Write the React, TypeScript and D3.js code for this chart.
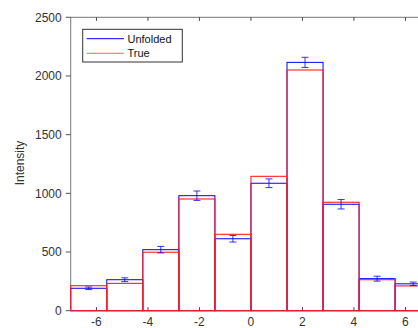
import * as d3 from "d3";
import React, { useRef, useEffect } from "react";

// bin edges from -7 to 7, width 1.4
const binEdges = [-7, -5.6, -4.2, -2.8, -1.4, 0, 1.4, 2.8, 4.2, 5.6, 7];
const unfolded = [191, 264, 520, 980, 613, 1086, 2116, 907, 273, 229];
const trueVals = [213, 233, 498, 952, 651, 1145, 2051, 924, 264, 211];
const unfoldedErr = [11, 16, 28, 40, 28, 37, 43, 40, 21, 15];
const xTicks = [-6, -4, -2, 0, 2, 4, 6];
const yTicks = [0, 500, 1000, 1500, 2000, 2500];
const legendNames = ["Unfolded", "True"];

function App() {
  const svgRef = useRef<SVGSVGElement>(null);
  const width = 418;
  const height = 328;
  const marginLeft = 70.7;
  const marginTop = 17.3;
  const plotRight = 431.2; // plot box runs past the window edge
  const plotBottom = 310.7;

  useEffect(() => {
    const svg = d3.select(svgRef.current);
    svg.selectAll("*").remove();

    const font = "'Liberation Sans', Arial, Helvetica, sans-serif";
    const axisColor = "#777";

    const x = d3.scaleLinear().domain([-7, 7]).range([marginLeft, plotRight]);
    const y = d3.scaleLinear().domain([0, 2500]).range([plotBottom, marginTop]);

    // box
    svg.append("rect")
      .attr("x", marginLeft)
      .attr("y", marginTop)
      .attr("width", plotRight - marginLeft)
      .attr("height", plotBottom - marginTop)
      .attr("fill", "none")
      .attr("stroke", axisColor)
      .attr("stroke-width", 1);

    // x ticks, inward on top and bottom
    xTicks.forEach(t => {
      svg.append("line")
        .attr("x1", x(t)).attr("x2", x(t))
        .attr("y1", plotBottom).attr("y2", plotBottom - 3.5)
        .attr("stroke", "#444");
      svg.append("line")
        .attr("x1", x(t)).attr("x2", x(t))
        .attr("y1", marginTop).attr("y2", marginTop + 3.5)
        .attr("stroke", "#444");
      svg.append("text")
        .text(t)
        .attr("x", x(t))
        .attr("y", plotBottom + 15)
        .attr("text-anchor", "middle")
        .style("font-family", font)
        .style("font-size", 12)
        .style("fill", "#333");
    });

    // y ticks, outward on the left
    yTicks.forEach(t => {
      svg.append("line")
        .attr("x1", marginLeft - 5).attr("x2", marginLeft)
        .attr("y1", y(t)).attr("y2", y(t))
        .attr("stroke", "#555");
      svg.append("text")
        .text(t)
        .attr("x", marginLeft - 9)
        .attr("y", y(t) + 4.3)
        .attr("text-anchor", "end")
        .style("font-family", font)
        .style("font-size", 12)
        .style("fill", "#333");
    });

    svg.append("text")
      .text("Intensity")
      .attr("transform", `translate(24, 163) rotate(-90)`)
      .attr("text-anchor", "middle")
      .style("font-family", font)
      .style("font-size", 12)
      .style("fill", "#333");

    const bins = d3.range(unfolded.length);

    // unfolded histogram
    svg.append("g")
      .selectAll("rect")
      .data(bins)
      .enter()
      .append("rect")
      .attr("x", i => x(binEdges[i]))
      .attr("y", i => y(unfolded[i]))
      .attr("width", i => x(binEdges[i + 1]) - x(binEdges[i]))
      .attr("height", i => y(0) - y(unfolded[i]))
      .attr("fill", "none")
      .attr("stroke", "#0000ff")
      .attr("stroke-width", 1);

    // true histogram, drawn over the unfolded one
    svg.append("g")
      .selectAll("rect")
      .data(bins)
      .enter()
      .append("rect")
      .attr("x", i => x(binEdges[i]))
      .attr("y", i => y(trueVals[i]))
      .attr("width", i => x(binEdges[i + 1]) - x(binEdges[i]))
      .attr("height", i => y(0) - y(trueVals[i]))
      .attr("fill", "none")
      .attr("stroke", "#ff2020")
      .attr("stroke-width", 1.1);

    // error bars
    const eb = svg.append("g")
      .attr("stroke", "#0000ff")
      .attr("stroke-opacity", 0.8)
      .attr("stroke-width", 1);
    bins.forEach(i => {
      const cx = x((binEdges[i] + binEdges[i + 1]) / 2);
      const lo = y(unfolded[i] - unfoldedErr[i]);
      const hi = y(unfolded[i] + unfoldedErr[i]);
      eb.append("line").attr("x1", cx).attr("x2", cx).attr("y1", lo).attr("y2", hi);
      eb.append("line").attr("x1", cx - 3.5).attr("x2", cx + 3.5).attr("y1", lo).attr("y2", lo);
      eb.append("line").attr("x1", cx - 3.5).attr("x2", cx + 3.5).attr("y1", hi).attr("y2", hi);
    });

    // legend
    const lg = svg.append("g");
    lg.append("rect")
      .attr("x", 82.7)
      .attr("y", 29.3)
      .attr("width", 99.6)
      .attr("height", 32.7)
      .attr("fill", "white")
      .attr("stroke", "#333")
      .attr("stroke-width", 1);
    const legendColors = ["#0000ff", "#ff0000"];
    legendNames.forEach((name, i) => {
      const ly = 38.7 + i * 14.6;
      lg.append("line")
        .attr("x1", 86.7).attr("x2", 124)
        .attr("y1", ly).attr("y2", ly)
        .attr("stroke", legendColors[i])
        .attr("stroke-opacity", i === 1 ? 0.6 : 1);
      lg.append("text")
        .text(name)
        .attr("x", 127.5)
        .attr("y", ly + 4)
        .style("font-family", font)
        .style("font-size", 11)
        .style("fill", "#111");
    });
  }, []);

  return (
    <svg
      ref={svgRef}
      width={width}
      height={height}
      style={{ position: "absolute", left: 0, top: 0, background: "white" }}
    />
  );
}

export default App;
